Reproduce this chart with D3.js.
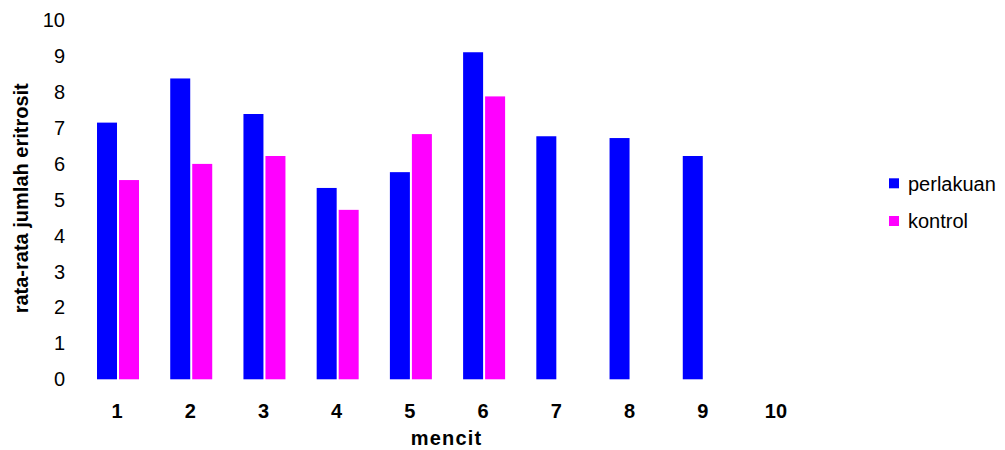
<!DOCTYPE html>
<html>
<head>
<meta charset="utf-8">
<script src="https://cdn.jsdelivr.net/npm/d3@7"></script>
<style>
  body { margin: 0; background: #fff; }
  svg { font-family: "Liberation Sans", Arial, sans-serif; }
</style>
</head>
<body>
<svg id="chart" width="1005" height="450"></svg>
<script>
const categories = ['1', '2', '3', '4', '5', '6', '7', '8', '9', '10'];
const seriesNames = ['perlakuan', 'kontrol'];
const perlakuan = [7.15, 8.38, 7.39, 5.33, 5.77, 9.11, 6.77, 6.72, 6.22, null];
const kontrol = [5.55, 6.0, 6.22, 4.72, 6.83, 7.88, null, null, null, null];
const yTicks = [0, 1, 2, 3, 4, 5, 6, 7, 8, 9, 10];
const colors = ['#0000ff', '#ff00ff'];

const svg = d3.select('#chart');

// plot area
const plotLeft = 80.4, plotRight = 812.6, plotTop = 20.3, plotBottom = 379.3;

const x = d3.scaleBand().domain(categories).range([plotLeft, plotRight]);
const y = d3.scaleLinear().domain([0, 10]).range([plotBottom, plotTop]);

const barW = 20;
const gap = 2;

const rows = categories.map((c, i) => ({ cat: c, values: [perlakuan[i], kontrol[i]] }));

// bars
const group = svg.append('g')
  .selectAll('g')
  .data(rows)
  .join('g');

group.selectAll('rect')
  .data(d => d.values.map((v, k) => ({ cat: d.cat, v, k })).filter(d => d.v != null))
  .join('rect')
  .attr('x', d => x(d.cat) + x.bandwidth() / 2 + (d.k === 0 ? -barW : gap))
  .attr('width', barW)
  .attr('y', d => y(d.v))
  .attr('height', d => y(0) - y(d.v))
  .attr('fill', d => colors[d.k]);

// y axis ticks (no line)
const yAxis = svg.append('g')
  .attr('transform', `translate(65,0)`)
  .call(d3.axisLeft(y).tickValues(yTicks).tickSize(0).tickPadding(0));
yAxis.select('.domain').remove();
yAxis.selectAll('text')
  .attr('font-size', '20px')
  .attr('font-family', '"Liberation Sans", Arial, sans-serif')
  .attr('fill', '#000');

// x axis labels
const xAxis = svg.append('g')
  .attr('transform', `translate(0,404)`)
  .call(d3.axisBottom(x).tickSize(0).tickPadding(0));
xAxis.select('.domain').remove();
xAxis.selectAll('text')
  .attr('font-size', '20px')
  .attr('font-weight', 'bold')
  .attr('font-family', '"Liberation Sans", Arial, sans-serif')
  .attr('fill', '#000');

// axis titles
svg.append('text')
  .attr('x', (plotLeft + plotRight) / 2)
  .attr('y', 445)
  .attr('text-anchor', 'middle')
  .attr('font-size', '20px')
  .attr('font-weight', 'bold')
  .attr('letter-spacing', '1.2px')
  .text('mencit');

svg.append('text')
  .attr('transform', 'translate(28,198.3) rotate(-90)')
  .attr('text-anchor', 'middle')
  .attr('font-size', '20px')
  .attr('font-weight', 'bold')
  .text('rata-rata jumlah eritrosit');

// legend
const legend = svg.append('g')
  .selectAll('g')
  .data(seriesNames)
  .join('g')
  .attr('transform', (d, i) => `translate(889,${178.3 + i * 37.7})`);

legend.append('rect')
  .attr('width', 10)
  .attr('height', 10)
  .attr('fill', (d, i) => colors[i]);

legend.append('text')
  .attr('x', 19)
  .attr('y', 12.4)
  .attr('font-size', '20px')
  .text(d => d);
</script>
</body>
</html>
